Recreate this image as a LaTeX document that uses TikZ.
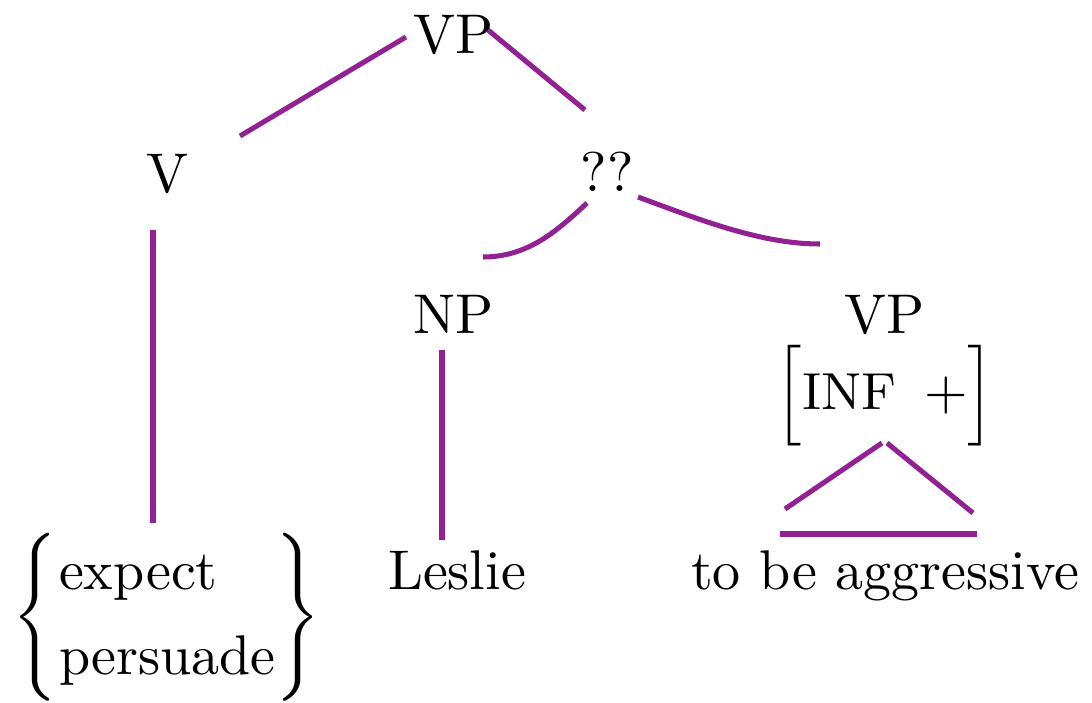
\documentclass[tikz,border=0pt]{standalone}
\usepackage{amsmath}
\definecolor{edgepurple}{RGB}{146,34,148}
\begin{document}
\begin{tikzpicture}[x=0.1786pt,y=-0.1786pt,
  edge/.style={draw=edgepurple,line width=0.9pt},
  lbl/.style={anchor=base,inner sep=0pt,font=\fontsize{10}{12}\selectfont}]
\useasboundingbox (0,0) rectangle (1092,703);
% labels
\node[lbl] (vp) at (454,53) {VP};
\node[lbl] (v) at (167,193) {V};
\node[lbl] (qq) at (607,192) {??};
\node[lbl] (np) at (454,333) {NP};
\node[lbl] (vp2) at (885,333) {VP};
\node[lbl] (inf) at (885,410) {$\Big[\text{\fontsize{9.3}{11}\selectfont INF}\hspace{5pt}{+}\Big]$};
\node[lbl] (leslie) at (457,590) {Leslie};
\node[lbl] (tba) at (885,590) {to be aggressive};
\node[lbl] (lbr) at (35,631) {$\Bigg\{$};
\node[lbl] (rbr) at (298,631) {$\Bigg\}$};
\node[lbl,anchor=base west] (expect) at (58,590) {expect};
\node[lbl,anchor=base west] (persuade) at (58,675) {persuade};
% edge end points
\coordinate (vpL) at (406,37);
\coordinate (vL) at (240,136);
\coordinate (vpR) at (488,30);
\coordinate (qqT) at (585,110);
\coordinate (vB) at (153,230);
\coordinate (wordsT) at (153,523);
\coordinate (qqL) at (587,203);
\coordinate (npT) at (483,257);
\coordinate (qqR) at (638,197);
\coordinate (vp2T) at (820,244);
\coordinate (npB) at (442,350);
\coordinate (leslieT) at (442,540);
\coordinate (apexL) at (882,443);
\coordinate (apexR) at (887,443);
\coordinate (triL) at (785,509);
\coordinate (triR) at (973,513);
\coordinate (baseL) at (780,534);
\coordinate (baseR) at (977,534);
% edges
\draw[edge] (vpL) -- (vL);
\draw[edge] (vpR) -- (qqT);
\draw[edge] (vB) -- (wordsT);
\draw[edge] (qqL) .. controls +(-30,28) and +(45,0) .. (npT);
\draw[edge] (qqR) .. controls +(60,22) and +(-60,0) .. (vp2T);
\draw[edge] (npB) -- (leslieT);
\draw[edge] (apexL) -- (triL);
\draw[edge] (apexR) -- (triR);
\draw[edge] (baseL) -- (baseR);
\end{tikzpicture}
\end{document}
